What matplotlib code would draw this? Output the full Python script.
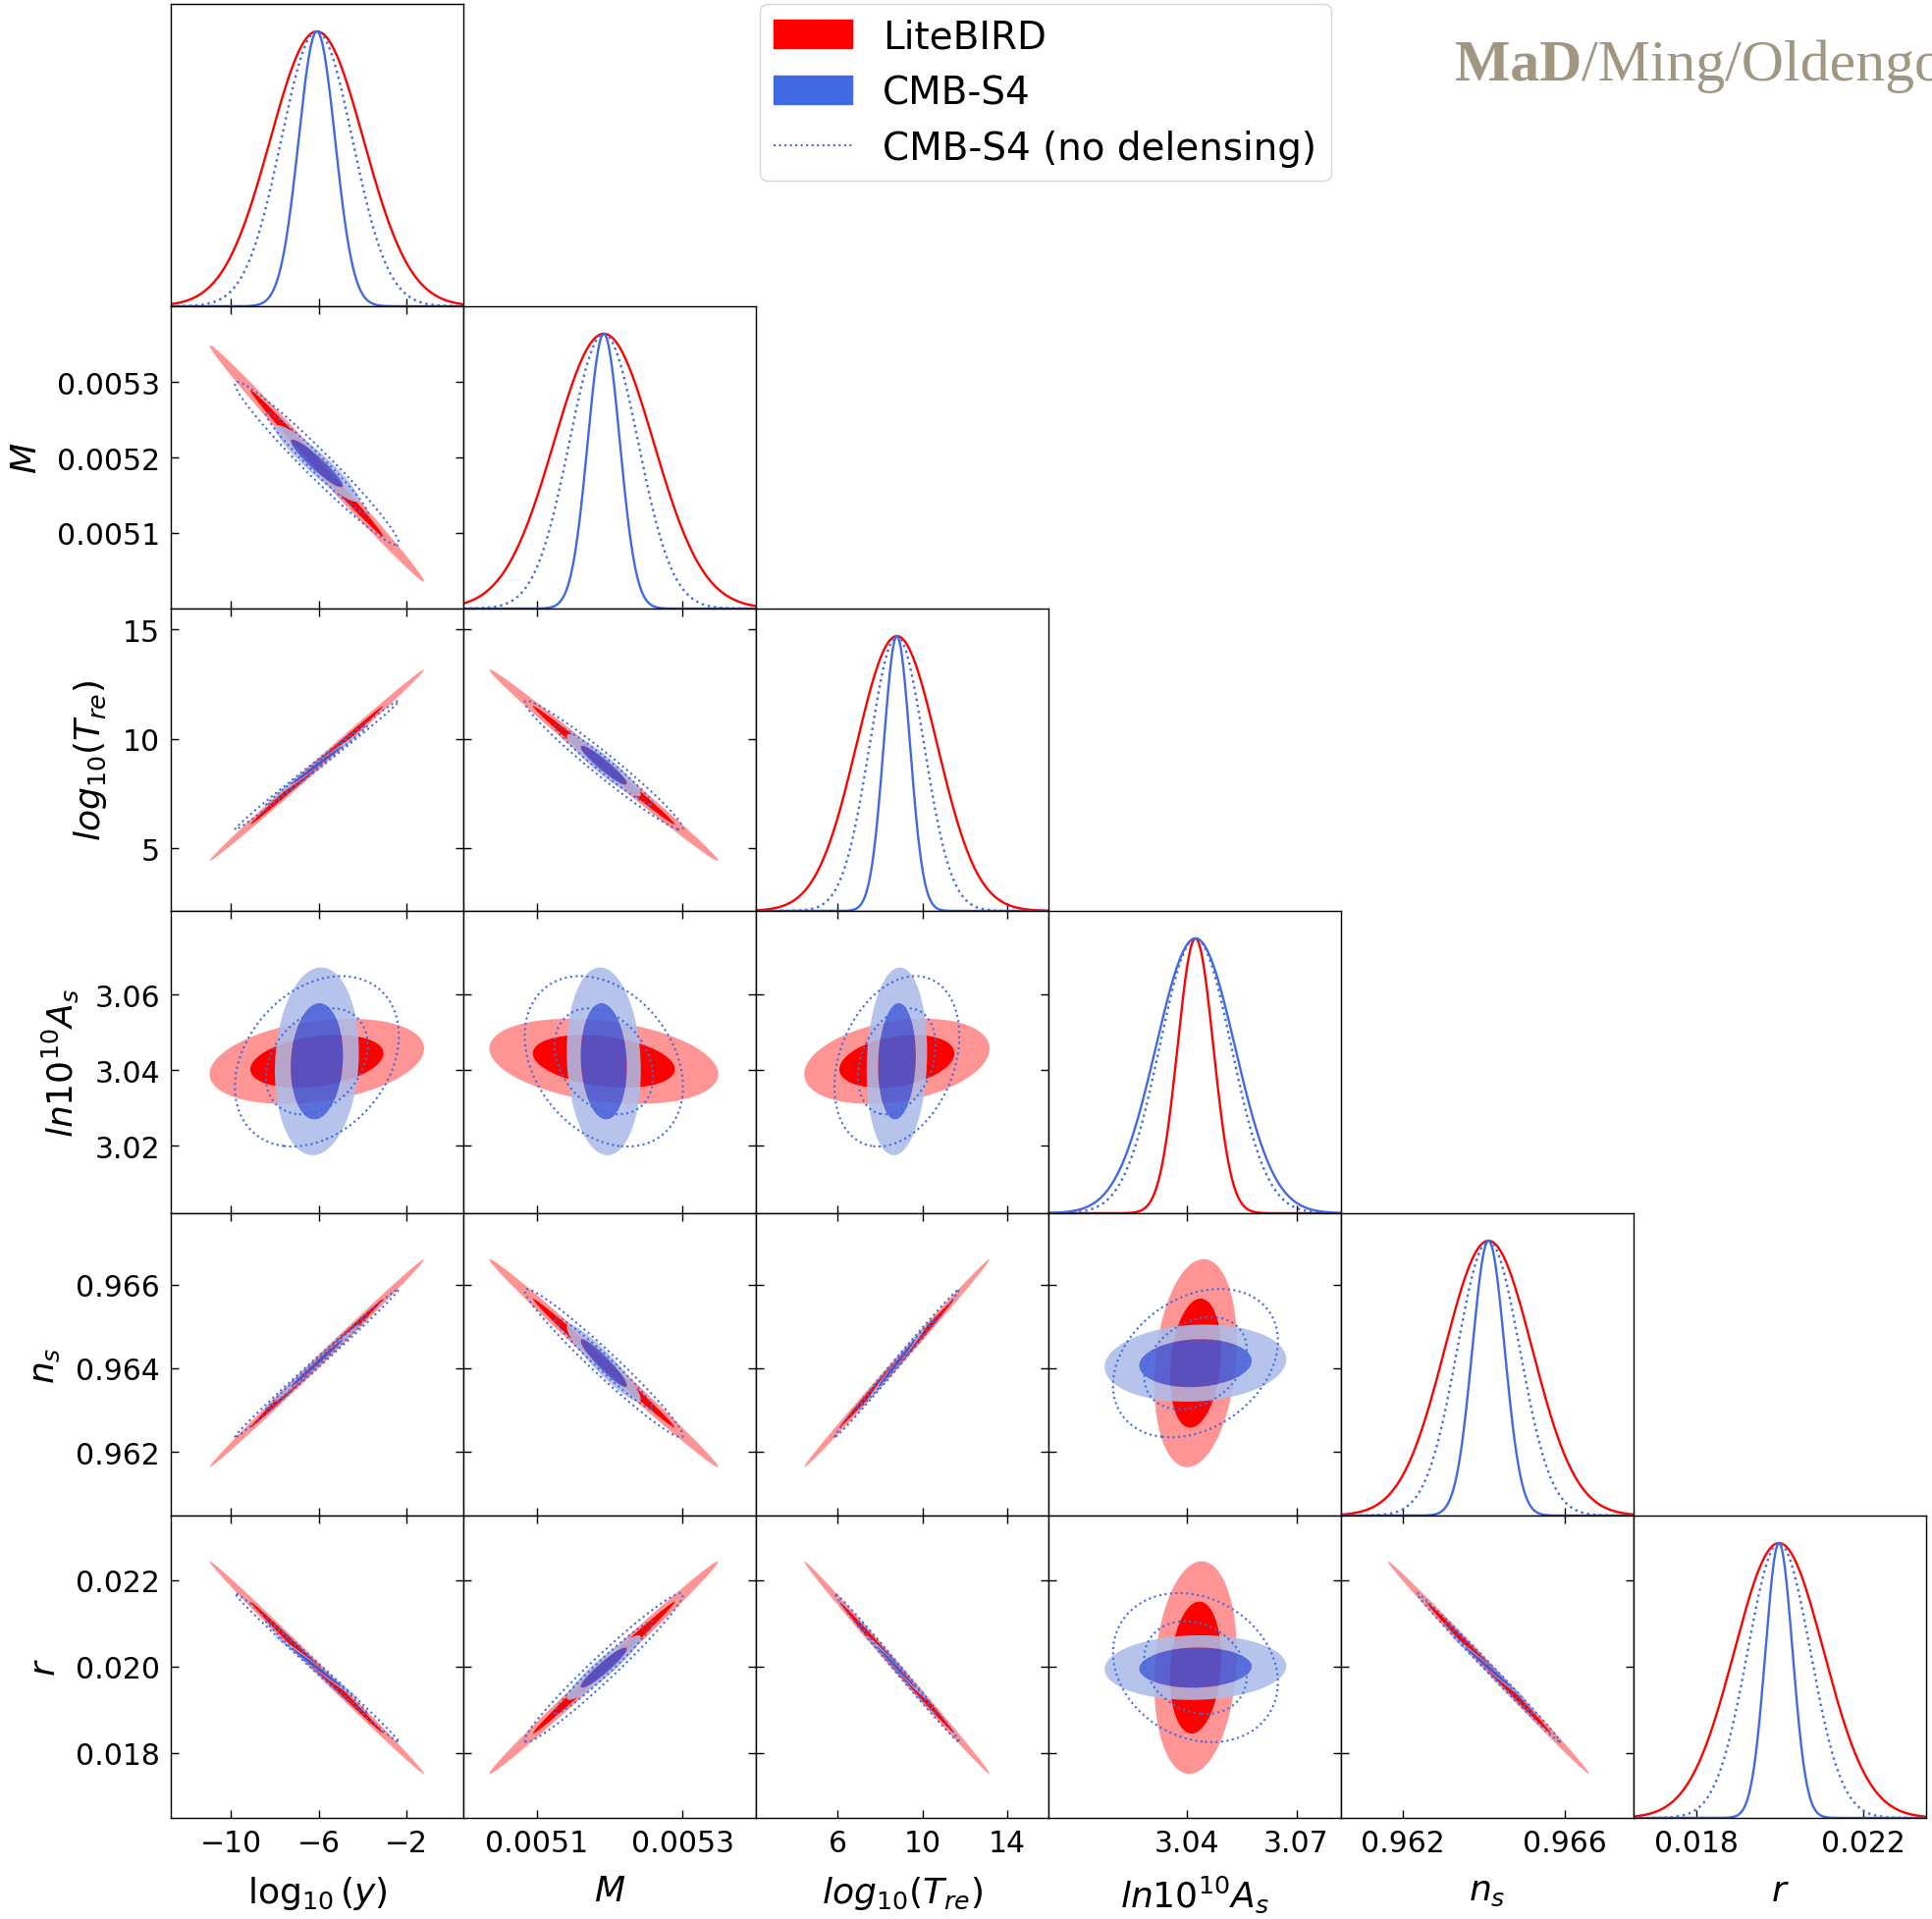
import numpy as np
import matplotlib
matplotlib.use('Agg')
import matplotlib.pyplot as plt
from matplotlib.patches import Patch
from matplotlib.lines import Line2D

# parameters: log10(y), M, log10(T_re), ln10^10 A_s, n_s, r
labels = [r'$\log_{10}(y)$', r'$M$', r'$log_{10}(T_{re})$', r'$ln10^{10}A_s$', r'$n_s$', r'$r$']
means = [-6.08, 0.005192, 8.8, 3.0424, 0.96412, 0.01998]
limits = [(-12.72, 0.58), (0.0050, 0.0054), (2.15, 15.95),
          (3.0022, 3.0822), (0.96048, 0.96770), (0.0165, 0.0235)]

# 1-sigma widths
sig_litebird = [2.12, 6.8e-5, 1.9, 0.0049, 0.00108, 0.00107]
sig_cmbs4 = [0.83, 2.2e-5, 0.62, 0.0108, 0.000400, 0.000325]
sig_nodelens = [1.62, 4.7e-5, 1.28, 0.0098, 0.00077, 0.00075]

# correlation coefficients, lower triangle: rho[i][j] for i > j
rho_litebird = [[],
                [-0.996],
                [0.998, -0.996],
                [0.3, -0.3, 0.3],
                [0.998, -0.996, 0.998, 0.2],
                [-0.998, 0.996, -0.998, 0.15, -0.998]]
rho_cmbs4 = [[],
             [-0.93],
             [0.995, -0.93],
             [0.1, -0.1, 0.1],
             [0.995, -0.93, 0.995, 0.1],
             [-0.995, 0.93, -0.995, 0.05, -0.995]]
rho_nodelens = [[],
                [-0.975],
                [0.997, -0.975],
                [0.3, -0.3, 0.3],
                [0.997, -0.975, 0.997, 0.3],
                [-0.997, 0.975, -0.997, -0.2, -0.997]]

xticks = [[-10, -6, -2], [0.0051, 0.0053], [6, 10, 14], [3.04, 3.07], [0.962, 0.966], [0.018, 0.022]]
xticklabels = [['\u221210', '\u22126', '\u22122'], ['0.0051', '0.0053'], ['6', '10', '14'],
               ['3.04', '3.07'], ['0.962', '0.966'], ['0.018', '0.022']]
yticks = [[], [0.0051, 0.0052, 0.0053], [5, 10, 15], [3.02, 3.04, 3.06],
          [0.962, 0.964, 0.966], [0.018, 0.020, 0.022]]
yticklabels = [[], ['0.0051', '0.0052', '0.0053'], ['5', '10', '15'], ['3.02', '3.04', '3.06'],
               ['0.962', '0.964', '0.966'], ['0.018', '0.020', '0.022']]

K_IN, K_OUT = 1.43, 2.3   # contour sizes in sigma units
RED = '#ff0000'
BLUE = 'royalblue'
red_fill = [(1, 0, 0, 1.0), (1, 0, 0, 0.42)]
blue_fill = [(67/255, 91/255, 216/255, 0.88), (172/255, 188/255, 233/255, 0.88)]

W, H = 1968, 1956
fig = plt.figure(figsize=(W/100, H/100), dpi=100)
x0, y0, pw, ph = 174, 5, 298, 308
n = len(labels)


def chi2(i, j, sig, rho):
    x = np.linspace(*limits[j], 500)
    y = np.linspace(*limits[i], 500)
    X, Y = np.meshgrid(x, y)
    u = (X - means[j]) / sig[j]
    v = (Y - means[i]) / sig[i]
    r = rho[i][j]
    return X, Y, (u*u - 2*r*u*v + v*v) / (1 - r*r)


for i in range(n):
    for j in range(i + 1):
        ax = fig.add_axes([(x0 + j*pw)/W, 1 - (y0 + (i+1)*ph)/H, pw/W, ph/H])
        for s in ax.spines.values():
            s.set_linewidth(1.0)
        ax.set_xlim(limits[j])
        if i == j:
            xx = np.linspace(*limits[j], 600)
            for sig, col, ls in [(sig_litebird, RED, '-'), (sig_nodelens, BLUE, ':'), (sig_cmbs4, BLUE, '-')]:
                ax.plot(xx, np.exp(-0.5*((xx - means[j])/sig[j])**2), color=col, ls=ls, lw=1.7)
            ax.set_ylim(0, 1.1)
            ax.set_yticks([])
            ax.tick_params(axis='x', direction='in', length=5.5, width=1, labelsize=21.5, pad=8)
        else:
            X, Y, q = chi2(i, j, sig_litebird, rho_litebird)
            ax.contourf(X, Y, q, levels=[0, K_IN**2, K_OUT**2], colors=red_fill, antialiased=True)
            X, Y, q = chi2(i, j, sig_cmbs4, rho_cmbs4)
            ax.contourf(X, Y, q, levels=[0, K_IN**2, K_OUT**2], colors=blue_fill, antialiased=True)
            X, Y, q = chi2(i, j, sig_nodelens, rho_nodelens)
            ax.contour(X, Y, q, levels=[K_IN**2, K_OUT**2], colors=BLUE, linestyles=':', linewidths=1.5)
            ax.set_ylim(limits[i])
            ax.set_yticks(yticks[i])
            ax.set_yticklabels(yticklabels[i] if j == 0 else [])
            ax.tick_params(direction='in', length=5.5, width=1, labelsize=21.5, pad=8,
                           top=True, right=True)
            if j == 0:
                ax.set_ylabel(labels[i], fontsize=26, labelpad=10)
        ax.set_xticks(xticks[j])
        ax.set_xticklabels(xticklabels[j] if i == n - 1 else [])
        if i == n - 1:
            ax.set_xlabel(labels[j], fontsize=26, labelpad=12)

handles = [Patch(color=RED), Patch(color=BLUE), Line2D([], [], color=BLUE, ls=':', lw=1.5)]
fig.legend(handles, ['LiteBIRD', 'CMB-S4', 'CMB-S4 (no delensing)'],
           loc='upper left', bbox_to_anchor=(774/W, 1 - 5/H), borderaxespad=0,
           fontsize=28, handlelength=2.05, handleheight=0.77, handletextpad=0.8,
           labelspacing=0.48, borderpad=0.37, edgecolor='0.8')

# watermark, cut by the right edge as in the original
t1 = fig.text(1482/W, 1 - 82/H, 'MaD', family='Liberation Serif', weight='bold',
              fontsize=43, color='#a09682', va='baseline')
fig.canvas.draw()
bb = t1.get_window_extent()
fig.text(bb.x1/W, 1 - 82/H, '/Ming/Oldengott', family='Liberation Serif',
         fontsize=43, color='#a09682', va='baseline')

fig.savefig('out.png', dpi=100)
